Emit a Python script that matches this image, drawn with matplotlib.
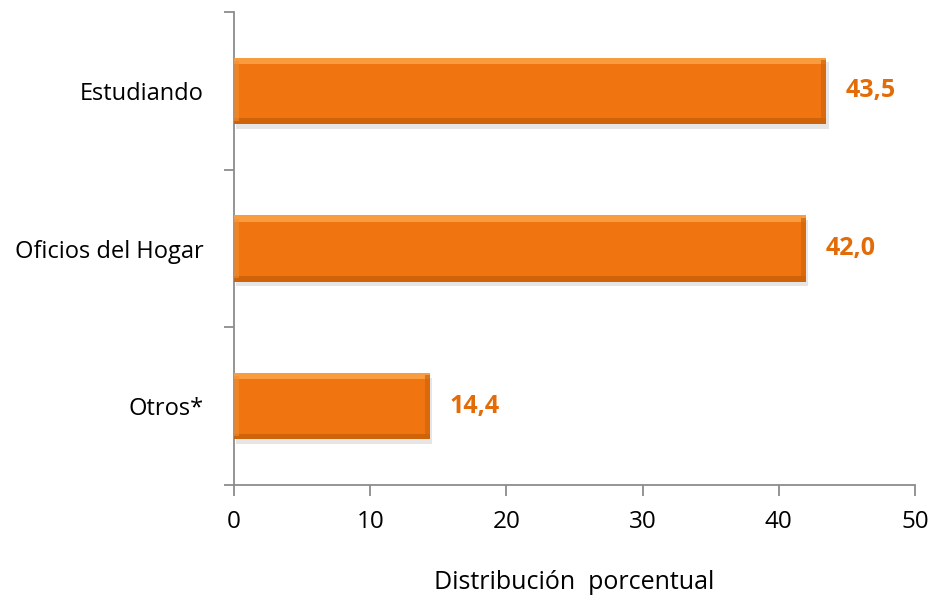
import matplotlib
matplotlib.use("Agg")
import matplotlib.pyplot as plt
import numpy as np

plt.rcParams['font.family'] = ['Open Sans', 'DejaVu Sans']

categories = ["Estudiando", "Oficios del Hogar", "Otros*"]
values = [43.5, 42.0, 14.4]
value_labels = ["43,5", "42,0", "14,4"]
xticks = [0, 10, 20, 30, 40, 50]

fig = plt.figure(figsize=(9.36, 5.98), dpi=100)
ax = fig.add_axes([234/936, (598-485)/598, (915-234)/936, (485-12)/598])

y = np.arange(len(categories))
h = 0.42
main = "#F07510"
# soft shadow
ax.barh(y + 0.03, values, height=h, left=0.15, color="#000000", alpha=0.10, zorder=1)
# main bar
ax.barh(y, values, height=h, color=main, zorder=2)
# top highlight
ax.barh(y - h/2 + 0.02, values, height=0.04, color="#FBAA50", zorder=3, alpha=0.75)
# bottom darker edge
ax.barh(y + h/2 - 0.018, values, height=0.036, color="#C25C08", zorder=3, alpha=0.7)
# right darker edge
ax.barh(y, [0.4]*3, left=[v - 0.4 for v in values], height=h - 0.03, color="#D06408", zorder=3, alpha=0.7)
# left lighter edge
ax.barh(y, [0.4]*3, height=h - 0.04, color="#F58E30", zorder=3, alpha=0.6)

for yi, v, lab in zip(y, values, value_labels):
    ax.annotate(lab, (v, yi), xytext=(14, 0), textcoords="offset points",
                va="center", ha="left", fontsize=18, fontweight="bold", color="#E36C09")

ax.set_xlim(0, 50)
ax.set_ylim(2.5, -0.5)
ax.set_xticks(xticks)
ax.set_xticklabels([str(t) for t in xticks], fontsize=17.5)
ax.set_yticks([-0.5, 0.5, 1.5, 2.5])
ax.set_yticklabels([])
ax.set_yticks(y, minor=True)
ax.set_yticklabels(categories, minor=True, fontsize=17)
ax.tick_params(axis="y", which="minor", length=0, pad=22)
ax.tick_params(axis="y", which="major", length=7, color="#8C8C8C", width=1.3)
ax.tick_params(axis="x", length=8, color="#8C8C8C", width=1.3, pad=10)

for s in ["top", "right"]:
    ax.spines[s].set_visible(False)
for s in ["left", "bottom"]:
    ax.spines[s].set_color("#8C8C8C")
    ax.spines[s].set_linewidth(1.3)

ax.set_xlabel("Distribución  porcentual", fontsize=18, labelpad=26)

fig.savefig("out.png", dpi=100)
